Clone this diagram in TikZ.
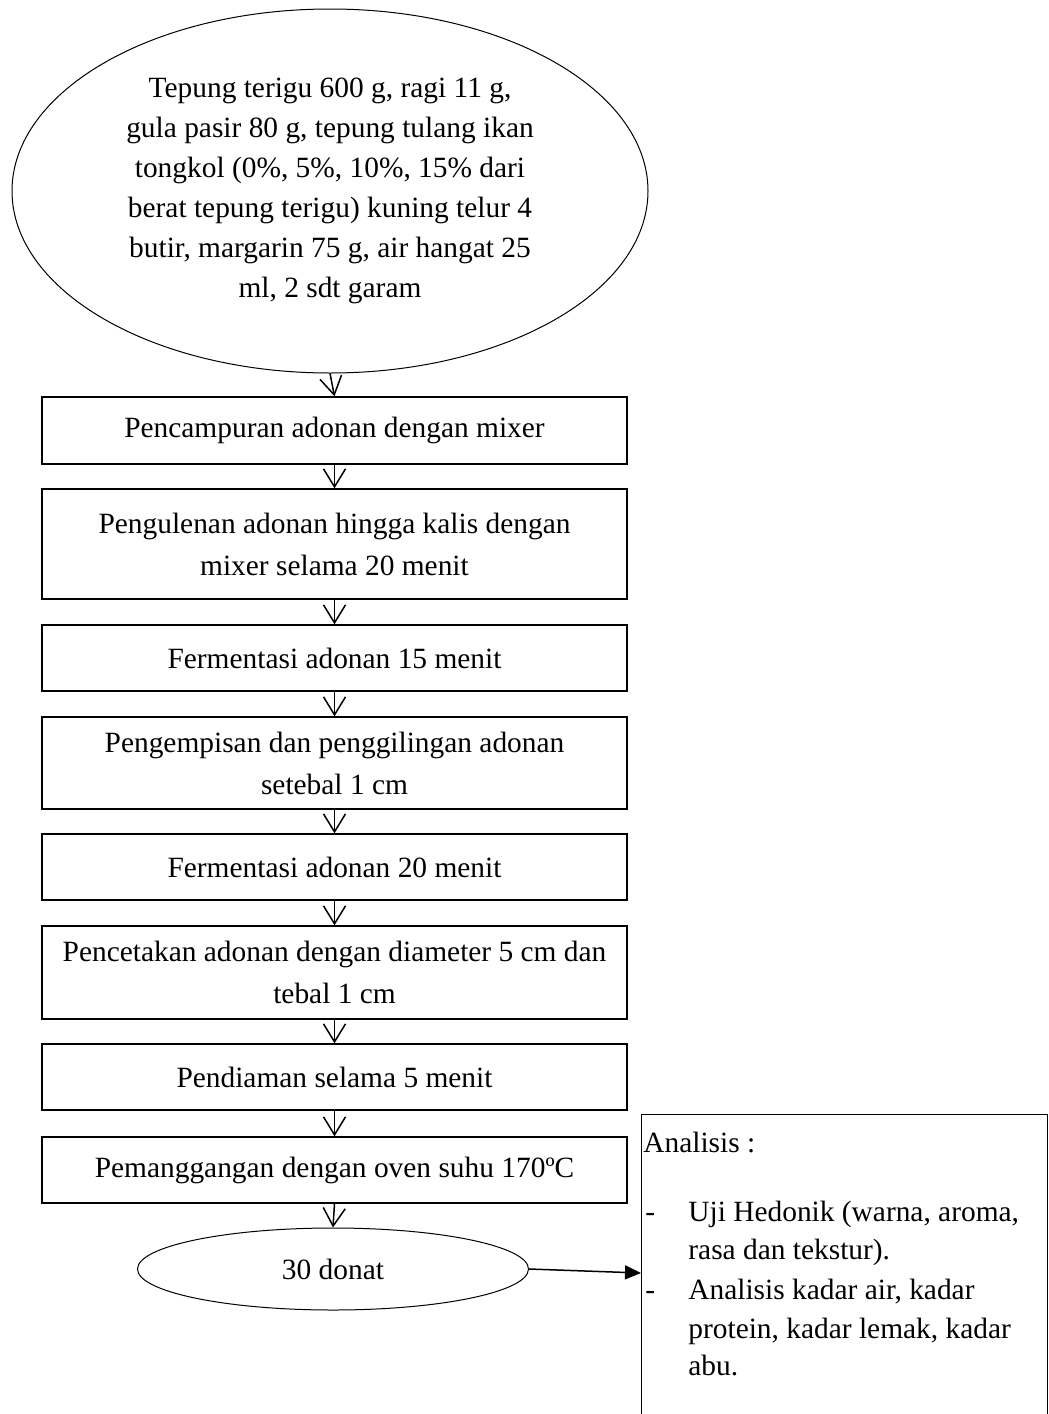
\documentclass[tikz,border=0pt]{standalone}
\usepackage{fontspec}
\setmainfont{Liberation Serif}
\usetikzlibrary{arrows.meta,shapes.geometric}
\newcommand\diagfont{\fontsize{14.7pt}{21pt}\selectfont}
\newcommand\ellfont{\fontsize{14.7pt}{20pt}\selectfont}
\begin{document}
\begin{tikzpicture}[x=0.5pt,y=-0.5pt,
  every node/.style={font=\diagfont},
  proc/.style={draw, line width=0.7pt, minimum width=292.5pt, align=center, inner sep=0pt},
  txt/.style={inner sep=0pt, anchor=base west},
  flow/.style={line width=0.75pt, -{Straight Barb[length=9pt,width=11pt,line width=0.75pt]}},
  side/.style={line width=0.75pt, -{Triangle[length=8pt,width=7pt]}}]
\clip (0,0) rectangle (1049,1414);
\node[ellipse, draw, line width=0.5pt, minimum width=318pt, minimum height=182pt, inner sep=0pt, align=center, font=\ellfont] (bahan) at (330,191)
  {Tepung terigu 600 g, ragi 11 g,\\ gula pasir 80 g, tepung tulang ikan\\ tongkol (0\%, 5\%, 10\%, 15\% dari\\ berat tepung terigu) kuning telur 4\\ butir, margarin 75 g, air hangat 25\\ ml, 2 sdt garam};
\node[proc, minimum height=33.5pt] (s1) at (334.5,430.5) {Pencampuran adonan dengan mixer};
\node[proc, minimum height=55pt] (s2) at (334.5,544) {Pengulenan adonan hingga kalis dengan\\ mixer selama 20 menit};
\node[proc, minimum height=33pt] (s3) at (334.5,658) {Fermentasi adonan 15 menit};
\node[proc, minimum height=46pt] (s4) at (334.5,763) {Pengempisan dan penggilingan adonan\\ setebal 1 cm};
\node[proc, minimum height=33pt] (s5) at (334.5,867) {Fermentasi adonan 20 menit};
\node[proc, minimum height=46.5pt] (s6) at (334.5,972.5) {Pencetakan adonan dengan diameter 5 cm dan\\ tebal 1 cm};
\node[proc, minimum height=33pt] (s7) at (334.5,1077) {Pendiaman selama 5 menit};
\node[proc, minimum height=33pt] (s8) at (334.5,1170) {Pemanggangan dengan oven suhu 170ºC};
\node[ellipse, draw, line width=0.5pt, minimum width=195.5pt, minimum height=41pt, inner sep=0pt] (donat) at (333,1269) {30 donat};
\node[draw, line width=0.7pt, anchor=north west, minimum width=203pt, minimum height=165pt, inner sep=0pt] (ana) at (641,1114) {};
\node[txt] (a0) at (643,1152) {Analisis :};
\node[txt] (d1) at (645,1221) {-};
\node[txt] (a1) at (688,1221) {Uji Hedonik (warna, aroma,};
\node[txt] (a2) at (688,1259) {rasa dan tekstur).};
\node[txt] (d2) at (645,1299) {-};
\node[txt] (a3) at (688,1299) {Analisis kadar air, kadar};
\node[txt] (a4) at (688,1338) {protein, kadar lemak, kadar};
\node[txt] (a5) at (688,1375) {abu.};
\coordinate (anaIn) at (641,1273);
\draw[flow] (bahan.south) -- (s1.north);
\draw[flow] (s1) -- (s2);
\draw[flow] (s2) -- (s3);
\draw[flow] (s3) -- (s4);
\draw[flow] (s4) -- (s5);
\draw[flow] (s5) -- (s6);
\draw[flow] (s6) -- (s7);
\draw[flow] (s7) -- (s8);
\draw[flow] (s8.south) -- (donat.north);
\draw[side] (donat.east) -- (anaIn);
\end{tikzpicture}
\end{document}
